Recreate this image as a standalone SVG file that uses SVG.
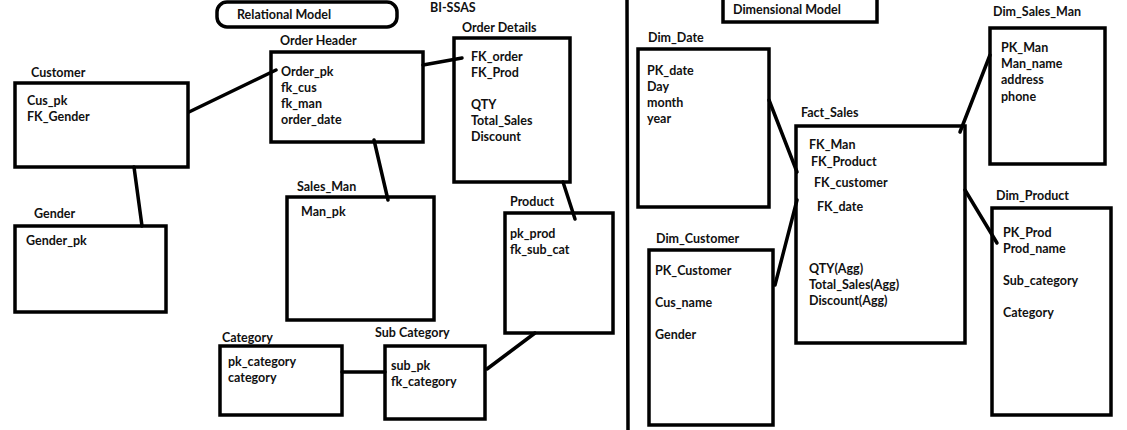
<svg xmlns="http://www.w3.org/2000/svg" width="1127" height="430" viewBox="0 0 1127 430">
<style>
.box{fill:none;stroke:#000;stroke-width:3.5}
.ln{stroke:#000;stroke-width:3.5;fill:none;stroke-linecap:round}
text{font-family:Lato,"Liberation Sans",sans-serif;font-weight:bold;font-size:12.5px;fill:#111}
</style>
<rect width="1127" height="430" fill="#fff"/>
<g id="title-relational">
<rect x="217" y="2" width="180" height="25" rx="10" ry="10" class="box"/>
<text x="237" y="19">Relational Model</text>
</g>
<g id="title-bissas"><text x="430" y="12">BI-SSAS</text></g>
<g id="divider"><line x1="627" y1="0" x2="628" y2="430" class="ln"/></g>
<g id="title-dimensional">
<rect x="723" y="-5" width="154" height="27" class="box"/>
<text x="733" y="14">Dimensional Model</text>
</g>

<g id="connectors">
<line x1="134" y1="167" x2="142" y2="226" class="ln"/>
<line x1="189" y1="112" x2="276" y2="70" class="ln"/>
<line x1="374" y1="140" x2="388" y2="200" class="ln"/>
<line x1="423" y1="65" x2="462" y2="58" class="ln"/>
<line x1="563" y1="182" x2="575" y2="219" class="ln"/>
<line x1="535" y1="333" x2="487" y2="369" class="ln"/>
<line x1="342" y1="372" x2="385" y2="372" class="ln"/>
<line x1="769" y1="100" x2="797" y2="172" class="ln"/>
<line x1="775" y1="285" x2="797" y2="200" class="ln"/>
<line x1="960" y1="132" x2="990" y2="55" class="ln"/>
<line x1="965" y1="190" x2="997" y2="243" class="ln"/>
</g>

<g id="customer">
<text x="31" y="77">Customer</text>
<rect x="15" y="83" width="173" height="84" class="box"/>
<text x="27" y="105">Cus_pk</text>
<text x="27" y="121">FK_Gender</text>
</g>
<g id="gender">
<text x="34" y="218">Gender</text>
<rect x="15" y="226" width="151" height="86" class="box"/>
<text x="26" y="245">Gender_pk</text>
</g>
<g id="order-header">
<text x="280" y="45">Order Header</text>
<rect x="271" y="52" width="152" height="90" class="box"/>
<text x="281" y="76">Order_pk</text>
<text x="281" y="92">fk_cus</text>
<text x="281" y="108">fk_man</text>
<text x="281" y="124">order_date</text>
</g>
<g id="sales-man">
<text x="297" y="191">Sales_Man</text>
<rect x="287" y="197" width="147" height="123" class="box"/>
<text x="301" y="216">Man_pk</text>
</g>
<g id="order-details">
<text x="462" y="32">Order Details</text>
<rect x="454" y="38" width="116" height="144" class="box"/>
<text x="471" y="61">FK_order</text>
<text x="471" y="77">FK_Prod</text>
<text x="471" y="109">QTY</text>
<text x="471" y="125">Total_Sales</text>
<text x="471" y="141">Discount</text>
</g>
<g id="product">
<text x="510" y="206">Product</text>
<rect x="505" y="213" width="108" height="120" class="box"/>
<text x="510" y="238">pk_prod</text>
<text x="510" y="254">fk_sub_cat</text>
</g>
<g id="category">
<text x="222" y="342">Category</text>
<rect x="220" y="346" width="122" height="69" class="box"/>
<text x="228" y="366">pk_category</text>
<text x="228" y="382">category</text>
</g>
<g id="sub-category">
<text x="375" y="337">Sub Category</text>
<rect x="385" y="346" width="100" height="73" class="box"/>
<text x="391" y="370">sub_pk</text>
<text x="391" y="386">fk_category</text>
</g>

<g id="dim-date">
<text x="648" y="42">Dim_Date</text>
<rect x="638" y="49" width="131" height="158" class="box"/>
<text x="647" y="75">PK_date</text>
<text x="647" y="91">Day</text>
<text x="647" y="107">month</text>
<text x="647" y="123">year</text>
</g>
<g id="dim-customer">
<text x="656" y="243">Dim_Customer</text>
<rect x="649" y="250" width="124" height="175" class="box"/>
<text x="655" y="275">PK_Customer</text>
<text x="655" y="307">Cus_name</text>
<text x="655" y="339">Gender</text>
</g>
<g id="fact-sales">
<text x="801" y="117">Fact_Sales</text>
<rect x="796" y="126" width="169" height="217" class="box"/>
<text x="809" y="149">FK_Man</text>
<text x="811" y="166">FK_Product</text>
<text x="814" y="187">FK_customer</text>
<text x="817" y="211">FK_date</text>
<text x="809" y="273">QTY(Agg)</text>
<text x="809" y="289">Total_Sales(Agg)</text>
<text x="809" y="305">Discount(Agg)</text>
</g>
<g id="dim-sales-man">
<text x="993" y="16">Dim_Sales_Man</text>
<rect x="990" y="28" width="115" height="136" class="box"/>
<text x="1001" y="52">PK_Man</text>
<text x="1001" y="68">Man_name</text>
<text x="1001" y="84">address</text>
<text x="1001" y="101">phone</text>
</g>
<g id="dim-product">
<text x="996" y="200">Dim_Product</text>
<rect x="992" y="208" width="119" height="207" class="box"/>
<text x="1003" y="237">PK_Prod</text>
<text x="1003" y="253">Prod_name</text>
<text x="1003" y="285">Sub_category</text>
<text x="1003" y="317">Category</text>
</g>
</svg>
